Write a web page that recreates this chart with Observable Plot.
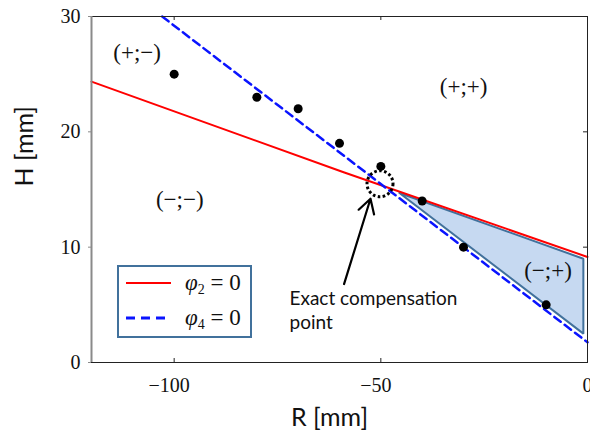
<!DOCTYPE html>
<html><head><meta charset="utf-8">
<script src="https://cdn.jsdelivr.net/npm/d3@7"></script>
<script src="https://cdn.jsdelivr.net/npm/@observablehq/plot@0.6"></script>
<style>
body{margin:0;background:#fff;}
#wrap{position:relative;width:590px;height:433px;overflow:hidden;}
g[aria-label="regions"] text{letter-spacing:2.5px;}
#legend{position:absolute;left:117px;top:265px;width:135px;height:73px;box-sizing:border-box;border:2px solid #41719c;background:#fff;}
</style></head><body><div id="wrap"></div>
<script>
const xDomain = [-120, 0];
const yDomain = [0, 30];
const xTicks = [-100, -50, 0];
const yTicks = [0, 10, 20, 30];
const measR = [-100, -80, -70, -60, -50, -40, -30, -10];
const measH = [25, 23, 22, 19, 17, 14, 10, 5];
const phi2R = [-120, -59, 0];
const phi2H = [24.35, 16.5, 9.15];
const phi4R = [-102.9, 0];
const phi4H = [30, 1.75];
const zoneR = [-45.5, -1, -1, -45.5];
const zoneH = [14.7, 9.0, 2.5, 14.7];
const regionLabels = ["(+;−)", "(+;+)", "(−;−)", "(−;+)"];
const regionR = [-109.2, -30.2, -98.9, -9.8];
const regionH = [26.9, 23.9, 14.1, 8.0];
const exactPoint = [{R: -50.2, H: 15.5}];
const arrowSeg = [{R1: -58.9, H1: 6.8, R2: -52.5, H2: 14.2}];
const note = [{R: -72.1, H: 4.63, t: "Exact compensation\npoint"}];
const legendItems = [
  {sym: "φ", sub: "2", color: "#ff0000", dash: null, width: 2},
  {sym: "φ", sub: "4", color: "#0a14ff", dash: "9,6", width: 3}
];

const meas = measR.map((R, i) => ({R, H: measH[i]}));
const phi2 = phi2R.map((R, i) => ({R, H: phi2H[i]}));
const phi4 = phi4R.map((R, i) => ({R, H: phi4H[i]}));
const zone = zoneR.map((R, i) => ({R, H: zoneH[i]}));
const regions = regionLabels.map((label, i) => ({label, R: regionR[i], H: regionH[i]}));
const inner = (t, d) => t.filter(v => v > d[0] && v < d[1]);

const serif = "Liberation Serif, Times New Roman, serif";
const sans = "Lato, Carlito, Calibri, sans-serif";

const chart = Plot.plot({
  width: 590, height: 433,
  marginLeft: 91, marginRight: 3, marginTop: 16, marginBottom: 71,
  x: {domain: xDomain},
  y: {domain: yDomain},
  style: {background: "#fff", color: "#111", overflow: "visible"},
  marks: [
    Plot.line(zone, {x: "R", y: "H", fill: "#c6d9f1", stroke: "#41719c", strokeWidth: 2, strokeLinejoin: "miter"}),
    Plot.line(phi2, {x: "R", y: "H", stroke: "#ff0000", strokeWidth: 2}),
    Plot.line(phi4, {x: "R", y: "H", stroke: "#0a14ff", strokeWidth: 2.5, strokeDasharray: "8,5"}),
    Plot.dot(meas, {x: "R", y: "H", r: 4.5, fill: "#000"}),
    Plot.dot(exactPoint, {x: "R", y: "H", r: 13, stroke: "#000", strokeWidth: 3, strokeDasharray: "2.6,2.4", fill: "none"}),
    Plot.arrow(arrowSeg, {x1: "R1", y1: "H1", x2: "R2", y2: "H2", stroke: "#000", strokeWidth: 2.2, headLength: 11}),
    Plot.text(regions, {x: "R", y: "H", text: "label", dx: 1, fontSize: 23, fontFamily: serif, fill: "#111", ariaLabel: "regions"}),
    Plot.text(note, {x: "R", y: "H", text: "t", textAnchor: "start", lineAnchor: "middle", lineHeight: 24/19, fontSize: 19, fontFamily: sans, fill: "#111"}),
    Plot.frame({stroke: "#222"}),
    Plot.ruleX([xDomain[0]], {stroke: "#8a8a8a", strokeWidth: 2}),
    Plot.ruleX(inner(xTicks, xDomain), {insetTop: 342, stroke: "#222"}),
    Plot.ruleX(inner(xTicks, xDomain), {insetBottom: 342, stroke: "#222"}),
    Plot.ruleY(inner(yTicks, yDomain), {insetLeft: 492, stroke: "#222"}),
    Plot.axisY({ticks: yTicks, tickSize: 3, tickPadding: 8, fontSize: 20, fontFamily: serif, stroke: "#8a8a8a", fill: "#111", label: null}),
    Plot.axisX({ticks: xTicks, tickSize: 0, tickPadding: 15, fontSize: 20, fontFamily: serif, fill: "#111", label: null,
      tickFormat: d => d < 0 ? "−" + (-d) + "\u2007" : String(d)}),
    Plot.text(["R [mm]"], {frameAnchor: "bottom", dx: -10, dy: 55, lineAnchor: "middle", fontSize: 25, fontFamily: sans, fill: "#111"}),
    Plot.text(["H [mm]"], {frameAnchor: "left", rotate: -90, dx: -67, dy: -3, lineAnchor: "middle", fontSize: 25, fontFamily: sans, fill: "#111"})
  ]
});
const wrap = document.getElementById("wrap");
wrap.appendChild(chart);

const lg = document.createElement("div");
lg.id = "legend";
const ns = "http://www.w3.org/2000/svg";
const svg = document.createElementNS(ns, "svg");
svg.setAttribute("width", 131); svg.setAttribute("height", 69);
legendItems.forEach((it, i) => {
  const cy = 16 + i * 35;
  const ln = document.createElementNS(ns, "line");
  ln.setAttribute("x1", 7); ln.setAttribute("x2", 52);
  ln.setAttribute("y1", cy); ln.setAttribute("y2", cy);
  ln.setAttribute("stroke", it.color); ln.setAttribute("stroke-width", it.width);
  if (it.dash) ln.setAttribute("stroke-dasharray", it.dash);
  svg.appendChild(ln);
  const tx = document.createElementNS(ns, "text");
  tx.setAttribute("x", 66); tx.setAttribute("y", cy + 7);
  tx.setAttribute("font-family", serif); tx.setAttribute("font-size", 23); tx.setAttribute("fill", "#111");
  tx.innerHTML = `<tspan font-style="italic">${it.sym}</tspan><tspan font-size="14" dy="4">${it.sub}</tspan><tspan dy="-4"> = 0</tspan>`;
  svg.appendChild(tx);
});
lg.appendChild(svg);
wrap.appendChild(lg);
</script></body></html>
